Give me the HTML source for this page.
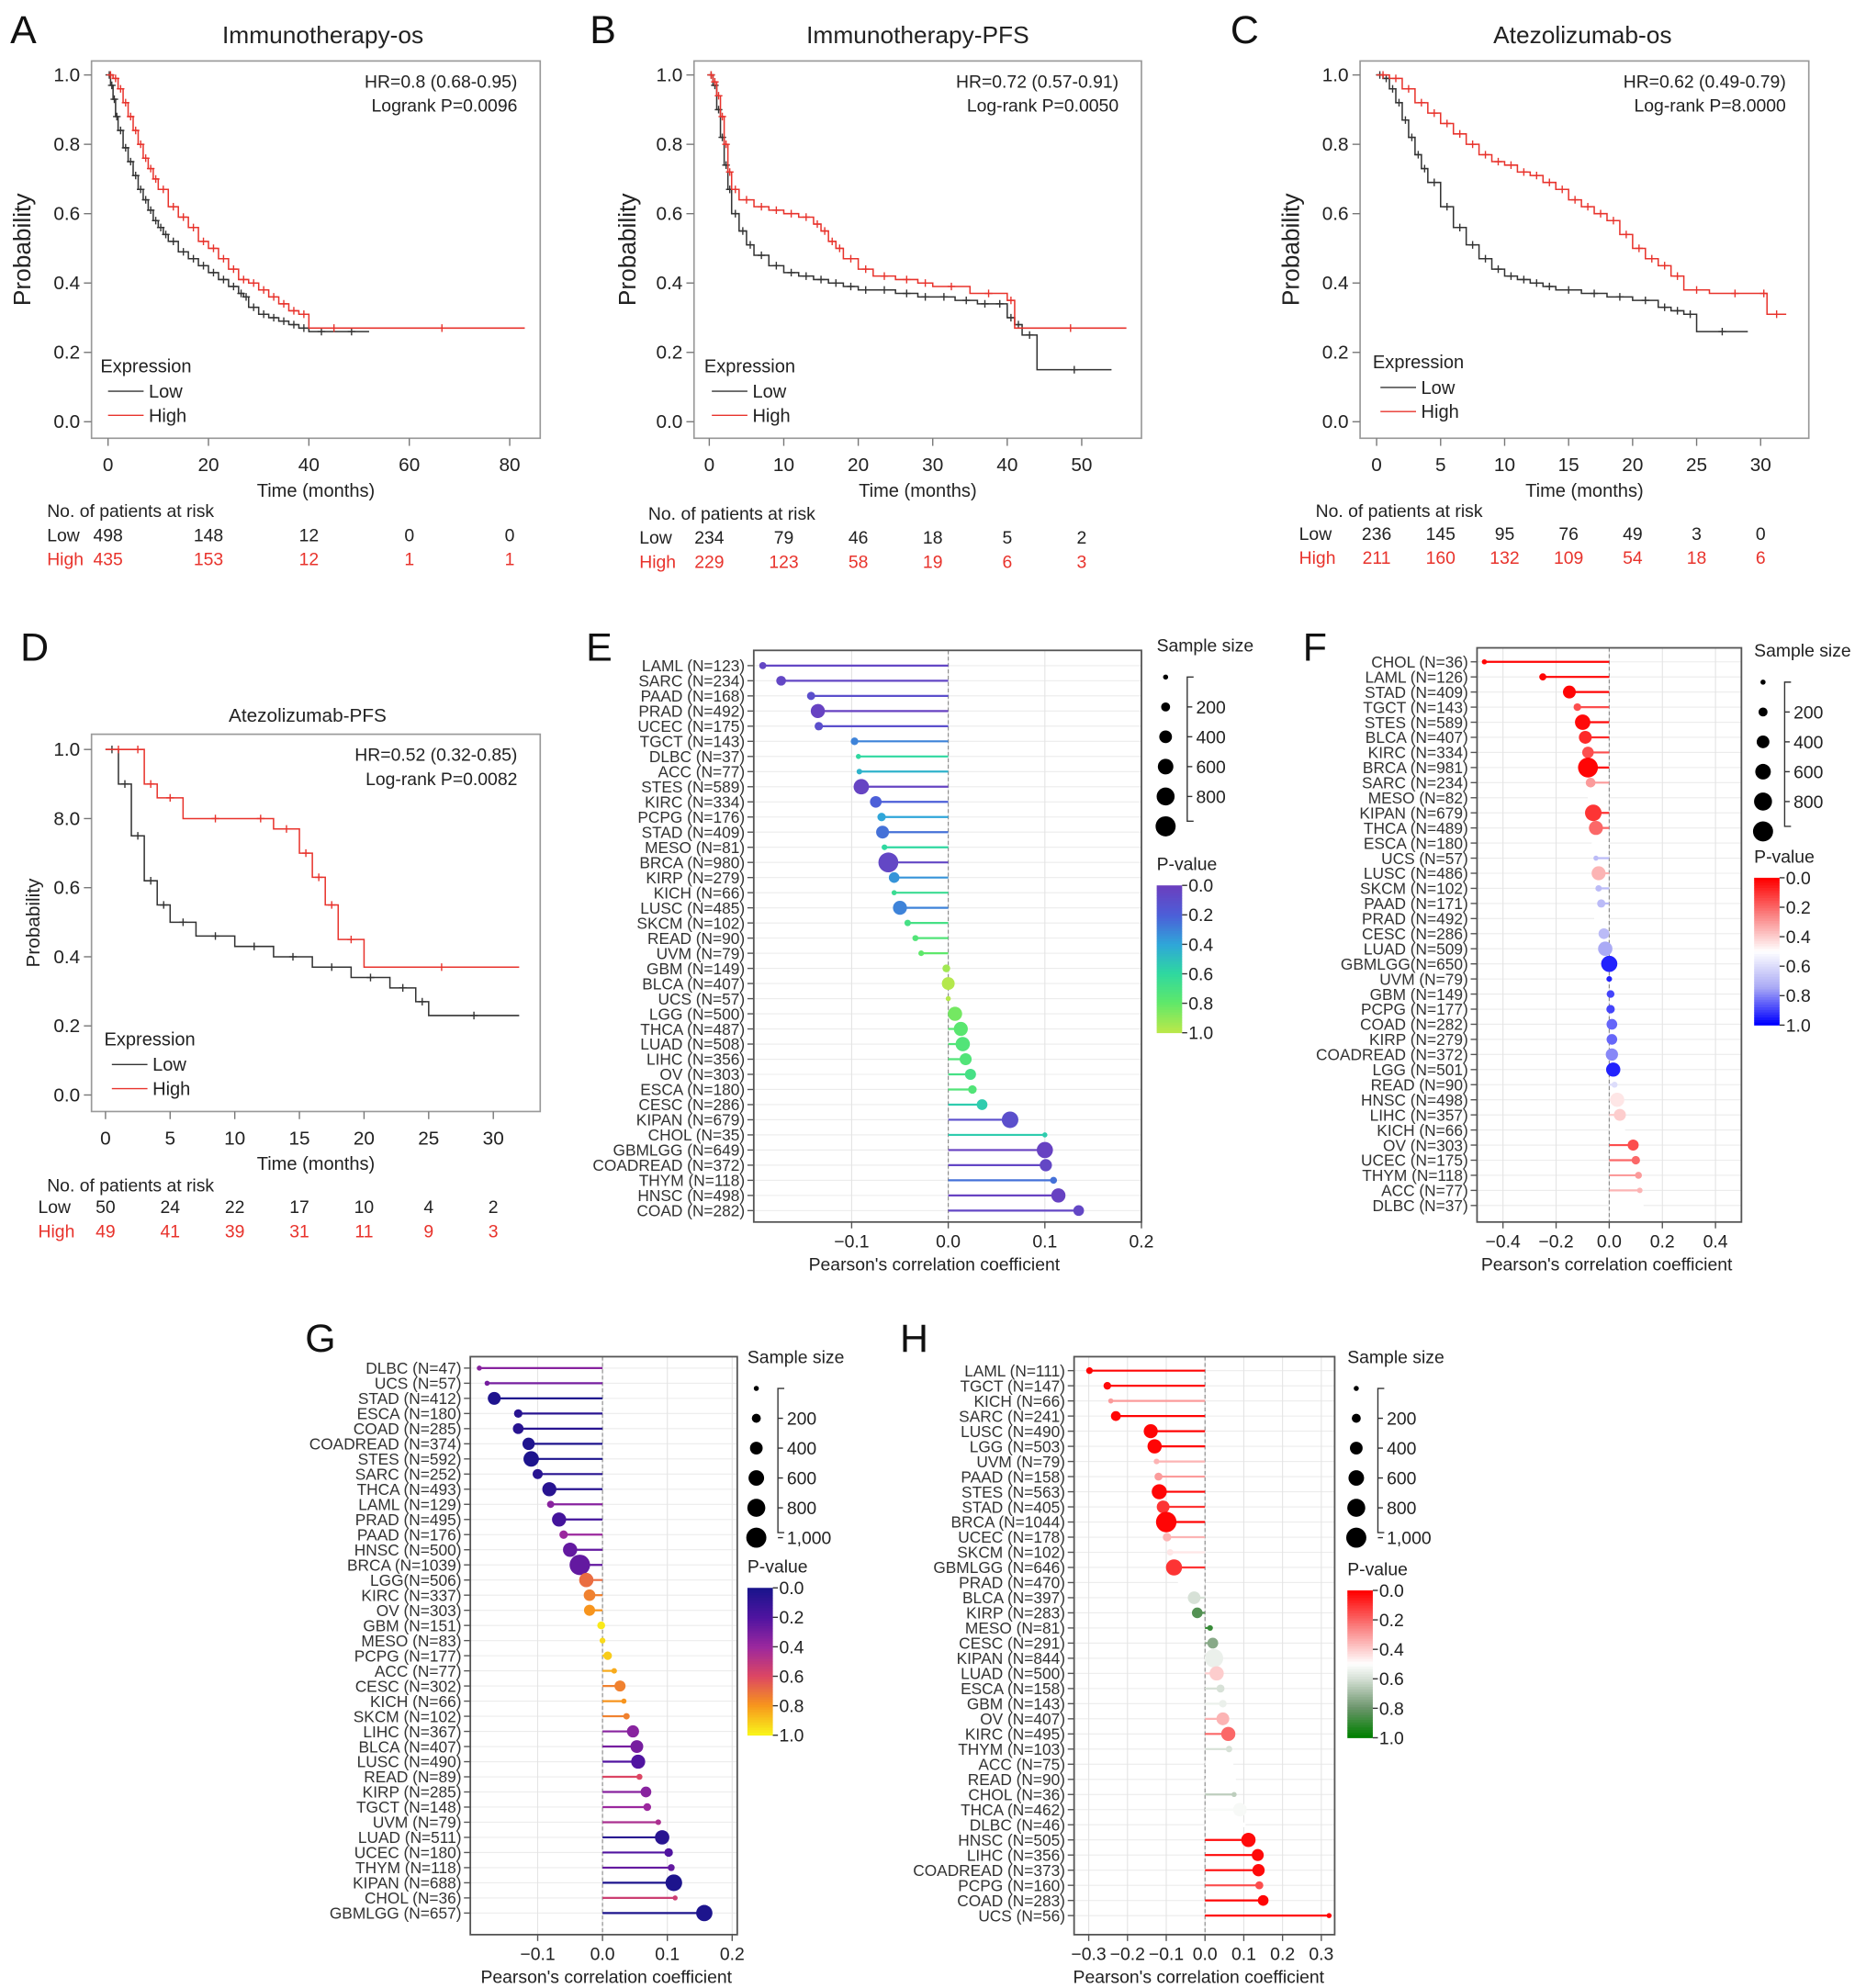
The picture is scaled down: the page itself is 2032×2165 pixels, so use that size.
<!DOCTYPE html>
<html><head><meta charset="utf-8">
<style>
html,body{margin:0;padding:0;background:#fff;}
svg{display:block;font-family:"Liberation Sans",Arial,sans-serif;}
</style></head>
<body>
<svg id="fig" width="2032" height="2165" viewBox="0 0 1468 1565" preserveAspectRatio="none" xmlns="http://www.w3.org/2000/svg"></svg>
<script>
// ===== KM data =====
const aLowT=[0,0.5,1,1.5,2,3,4,5,6,7,8,9,10,11,12,14,16,18,20,22,24,26,27,28,30,32,34,36,38,40,45,52];
const aLowP=[1,0.97,0.93,0.88,0.84,0.79,0.75,0.71,0.67,0.64,0.61,0.58,0.56,0.54,0.52,0.49,0.47,0.45,0.43,0.41,0.39,0.37,0.36,0.33,0.31,0.30,0.29,0.28,0.27,0.26,0.26,0.26];
const aHighT=[0,1,2,3,4,5,6,7,8,9,10,12,14,16,18,20,22,24,26,28,30,32,34,36,38,40,50,83];
const aHighP=[1,0.99,0.96,0.92,0.88,0.84,0.8,0.76,0.73,0.7,0.67,0.62,0.59,0.56,0.52,0.5,0.47,0.44,0.41,0.4,0.38,0.36,0.34,0.32,0.31,0.27,0.27,0.27];
const bLowT=[0,0.5,1,1.5,2,2.5,3,4,5,6,8,10,12,14,16,18,20,22,25,28,30,33,36,38,40,41,42,44,54];
const bLowP=[1,0.97,0.9,0.82,0.74,0.67,0.6,0.55,0.51,0.48,0.45,0.43,0.42,0.41,0.4,0.39,0.38,0.38,0.37,0.36,0.36,0.35,0.34,0.34,0.3,0.28,0.25,0.15,0.15];
const bHighT=[0,0.5,1,1.5,2,2.5,3,4,6,8,10,12,14,15,16,17,18,20,22,25,28,30,35,40,41,56];
const bHighP=[1,0.98,0.94,0.88,0.8,0.72,0.67,0.64,0.62,0.61,0.6,0.59,0.57,0.55,0.52,0.5,0.47,0.44,0.42,0.41,0.4,0.39,0.37,0.35,0.27,0.27];
const cLowT=[0,0.5,1,1.5,2,2.5,3,3.5,4,5,6,7,8,9,10,11,12,13,14,16,18,20,22,23,24,25,29];
const cLowP=[1,0.99,0.96,0.92,0.87,0.82,0.77,0.73,0.69,0.62,0.56,0.51,0.47,0.44,0.42,0.41,0.4,0.39,0.38,0.37,0.36,0.35,0.33,0.32,0.31,0.26,0.26];
const cHighT=[0,1,2,3,4,5,6,7,8,9,10,11,12,13,14,15,16,17,18,19,20,21,22,23,24,26,30,30.5,32];
const cHighP=[1,0.99,0.96,0.92,0.89,0.86,0.83,0.8,0.77,0.75,0.74,0.72,0.71,0.69,0.67,0.64,0.62,0.6,0.58,0.54,0.5,0.47,0.45,0.42,0.38,0.37,0.37,0.31,0.31];
const dLowT=[0,1,2,3,4,5,7,10,13,16,19,22,24,25,32];
const dLowP=[1,0.9,0.75,0.62,0.55,0.5,0.46,0.43,0.4,0.37,0.34,0.31,0.27,0.23,0.23];
const dHighT=[0,2,3,4,6,11,13,15,16,17,18,20,32];
const dHighP=[1,1,0.9,0.86,0.8,0.8,0.77,0.7,0.63,0.55,0.45,0.37,0.37];
const aRiskLow=["498","148","12","0","0"], aRiskHigh=["435","153","12","1","1"];
const bRiskLow=["234","79","46","18","5","2"], bRiskHigh=["229","123","58","19","6","3"];
const cRiskLow=["236","145","95","76","49","3","0"], cRiskHigh=["211","160","132","109","54","18","6"];
const dRiskLow=["50","24","22","17","10","4","2"], dRiskHigh=["49","41","39","31","11","9","3"];
const aXTicks=[0,20,40,60,80], bXTicks=[0,10,20,30,40,50], cXTicks=[0,5,10,15,20,25,30], dXTicks=[0,5,10,15,20,25,30];
const yTicks=[0,0.2,0.4,0.6,0.8,1.0];
const yTickLabels=["0.0","0.2","0.4","0.6","0.8","1.0"];
const dYTickLabels=["0.0","0.2","0.4","0.6","8.0","1.0"];

// ===== Lollipop data =====
const eCats=["LAML","SARC","PAAD","PRAD","UCEC","TGCT","DLBC","ACC","STES","KIRC","PCPG","STAD","MESO","BRCA","KIRP","KICH","LUSC","SKCM","READ","UVM","GBM","BLCA","UCS","LGG","THCA","LUAD","LIHC","OV","ESCA","CESC","KIPAN","CHOL","GBMLGG","COADREAD","THYM","HNSC","COAD"];
const eN=[123,234,168,492,175,143,37,77,589,334,176,409,81,980,279,66,485,102,90,79,149,407,57,500,487,508,356,303,180,286,679,35,649,372,118,498,282];
const eR=[-0.192,-0.173,-0.142,-0.135,-0.134,-0.097,-0.093,-0.092,-0.09,-0.075,-0.069,-0.068,-0.066,-0.062,-0.056,-0.056,-0.05,-0.042,-0.034,-0.028,-0.002,0.0,0.0,0.007,0.013,0.015,0.018,0.023,0.025,0.035,0.064,0.1,0.1,0.101,0.109,0.114,0.135];
const eP=[0.05,0.05,0.1,0.02,0.1,0.3,0.6,0.45,0.03,0.2,0.4,0.25,0.6,0.05,0.35,0.65,0.3,0.7,0.75,0.8,0.95,0.99,0.99,0.85,0.78,0.75,0.75,0.7,0.75,0.55,0.1,0.55,0.02,0.05,0.25,0.02,0.05];

const fCats=["CHOL","LAML","STAD","TGCT","STES","BLCA","KIRC","BRCA","SARC","MESO","KIPAN","THCA","ESCA","UCS","LUSC","SKCM","PAAD","PRAD","CESC","LUAD","GBMLGG","UVM","GBM","PCPG","COAD","KIRP","COADREAD","LGG","READ","HNSC","LIHC","KICH","OV","UCEC","THYM","ACC","DLBC"];
const fN=[36,126,409,143,589,407,334,981,234,82,679,489,180,57,486,102,171,492,286,509,650,79,149,177,282,279,372,501,90,498,357,66,303,175,118,77,37];
const fR=[-0.47,-0.25,-0.15,-0.12,-0.1,-0.09,-0.08,-0.08,-0.07,-0.07,-0.06,-0.05,-0.05,-0.05,-0.04,-0.04,-0.03,-0.03,-0.02,-0.015,0.0,0.0,0.005,0.005,0.01,0.01,0.01,0.015,0.02,0.03,0.04,0.05,0.09,0.1,0.11,0.115,0.12];
const fP=[0.01,0.01,0.01,0.15,0.02,0.08,0.15,0.01,0.3,0.5,0.1,0.2,0.5,0.7,0.35,0.7,0.7,0.5,0.7,0.75,0.95,0.95,0.9,0.9,0.85,0.85,0.8,0.95,0.6,0.45,0.4,0.5,0.15,0.2,0.3,0.35,0.5];

const gCats=["DLBC","UCS","STAD","ESCA","COAD","COADREAD","STES","SARC","THCA","LAML","PRAD","PAAD","HNSC","BRCA","LGG","KIRC","OV","GBM","MESO","PCPG","ACC","CESC","KICH","SKCM","LIHC","BLCA","LUSC","READ","KIRP","TGCT","UVM","LUAD","UCEC","THYM","KIPAN","CHOL","GBMLGG"];
const gN=[47,57,412,180,285,374,592,252,493,129,495,176,500,1039,506,337,303,151,83,177,77,302,66,102,367,407,490,89,285,148,79,511,180,118,688,36,657];
const gR=[-0.19,-0.178,-0.167,-0.13,-0.13,-0.114,-0.11,-0.1,-0.082,-0.08,-0.067,-0.06,-0.05,-0.035,-0.025,-0.02,-0.02,-0.002,0.0,0.008,0.018,0.027,0.033,0.037,0.047,0.053,0.055,0.057,0.067,0.069,0.086,0.092,0.102,0.106,0.11,0.112,0.157];
const gP=[0.35,0.3,0.02,0.05,0.05,0.02,0.01,0.05,0.05,0.35,0.15,0.4,0.25,0.25,0.7,0.75,0.8,0.98,0.95,0.92,0.85,0.75,0.8,0.75,0.35,0.3,0.2,0.6,0.35,0.4,0.45,0.05,0.2,0.25,0.01,0.55,0.01];

const hCats=["LAML","TGCT","KICH","SARC","LUSC","LGG","UVM","PAAD","STES","STAD","BRCA","UCEC","SKCM","GBMLGG","PRAD","BLCA","KIRP","MESO","CESC","KIPAN","LUAD","ESCA","GBM","OV","KIRC","THYM","ACC","READ","CHOL","THCA","DLBC","HNSC","LIHC","COADREAD","PCPG","COAD","UCS"];
const hN=[111,147,66,241,490,503,79,158,563,405,1044,178,102,646,470,397,283,81,291,844,500,158,143,407,495,103,75,90,36,462,46,505,356,373,160,283,56];
const hR=[-0.298,-0.252,-0.243,-0.23,-0.14,-0.13,-0.125,-0.12,-0.118,-0.108,-0.1,-0.098,-0.09,-0.08,-0.052,-0.028,-0.02,0.013,0.02,0.023,0.03,0.04,0.046,0.046,0.06,0.062,0.066,0.072,0.075,0.09,0.098,0.112,0.136,0.138,0.14,0.15,0.32];
const hP=[0.01,0.02,0.3,0.01,0.01,0.01,0.35,0.3,0.01,0.1,0.01,0.35,0.45,0.1,0.5,0.6,0.85,0.9,0.75,0.55,0.4,0.6,0.55,0.35,0.2,0.6,0.5,0.5,0.65,0.52,0.5,0.02,0.02,0.02,0.15,0.01,0.01];

// ===== helpers =====
const NS="http://www.w3.org/2000/svg";
const svg=document.getElementById('fig');
function mk(tag,attrs,parent){const e=document.createElementNS(NS,tag);for(const k in attrs)e.setAttribute(k,attrs[k]);(parent||svg).appendChild(e);return e;}
function txt(x,y,s,size,anchor,fill,name,parent,extra){
  const t=mk('text',Object.assign({x:x,y:y,'font-size':size,'text-anchor':anchor||'start',fill:fill||'#222'},extra||{}),parent);
  t.textContent=s;
  
  
  return t;
}
function grp(name){const g=mk('g',{});
  
  
  return g;}
function lerpColor(stops,v){
  v=Math.max(0,Math.min(1,v));
  for(let i=0;i<stops.length-1;i++){
    const [a,ca]=stops[i],[b,cb]=stops[i+1];
    if(v>=a&&v<=b){const t=(v-a)/(b-a||1);
      const c=[0,1,2].map(j=>Math.round(ca[j]+(cb[j]-ca[j])*t));
      return 'rgb('+c.join(',')+')';}
  }
  const c=stops[stops.length-1][1];return 'rgb('+c.join(',')+')';
}
const viridisStops=[[0,[106,63,191]],[0.2,[76,95,216]],[0.4,[47,166,217]],[0.6,[47,216,160]],[0.8,[94,232,106]],[1,[184,232,74]]];
const rbStops=[[0,[255,0,0]],[0.25,[250,130,130]],[0.5,[255,255,255]],[0.75,[170,170,245]],[1,[0,0,255]]];
const plasmaStops=[[0,[26,20,140]],[0.2,[80,20,160]],[0.4,[155,40,158]],[0.6,[220,70,100]],[0.8,[247,148,29]],[1,[249,242,26]]];
const rgStops=[[0,[255,0,0]],[0.25,[250,130,130]],[0.5,[255,255,255]],[0.6,[215,225,215]],[0.8,[110,150,110]],[1,[0,128,0]]];
const rad=n=>Math.max(2,0.25*Math.sqrt(n));

// ===== KM panel =====
function kmPanel(c){
  const g=grp('km-panel-'+c.id);
  const px=t=>c.x0+t*c.kx, py=p=>c.yb-p*(c.yb-c.yt);
  txt(c.letterX,c.letterY,c.letter,31,'start','#111','panel-letter-'+c.id,g);
  txt(c.titleX,c.titleY,c.title,c.titleSize,'middle','#222','chart-title-'+c.id,g);
  const box=mk('rect',{x:c.bx0,y:c.by0,width:c.bx1-c.bx0,height:c.by1-c.by0,fill:'none',stroke:'#999','stroke-width':1.2},g);
  
  
  yTicks.forEach((v,i)=>{
    mk('line',{x1:c.bx0-6,x2:c.bx0,y1:py(v),y2:py(v),stroke:'#777'},g);
    txt(c.bx0-9,py(v)+5,c.yLabels[i],15,'end','#222','y-tick-label',g);
  });
  c.xTicks.forEach((v,i)=>{
    mk('line',{x1:px(v),x2:px(v),y1:c.by1,y2:c.by1+6,stroke:'#777'},g);
    txt(px(v),c.by1+26,String(v),15,'middle','#222','x-tick-label',g);
    txt(px(v),c.riskY1,c.riskLow[i],14,'middle','#222','risk-low-value',g);
    txt(px(v),c.riskY2,c.riskHigh[i],14,'middle','#e8332c','risk-high-value',g);
  });
  txt((c.bx0+c.bx1)/2,c.by1+46,'Time (months)',14.5,'middle','#222','x-axis-title',g);
  const yt=txt(0,0,'Probability',c.ySize,'middle','#222','y-axis-title',g);
  yt.setAttribute('transform','translate('+c.ylx+','+((c.by0+c.by1)/2)+') rotate(-90)');
  txt(c.bx1-18,c.by0+21,c.hr,14,'end','#222','hazard-ratio',g);
  txt(c.bx1-18,c.by0+40,c.lr,14,'end','#222','logrank-p',g);
  txt(c.legX,c.legY,'Expression',14.5,'start','#222','legend-title',g);
  mk('line',{x1:c.legX+6,x2:c.legX+34,y1:c.legY+15,y2:c.legY+15,stroke:'#333'},g);
  txt(c.legX+38,c.legY+20,'Low',14.5,'start','#222','legend-low',g);
  mk('line',{x1:c.legX+6,x2:c.legX+34,y1:c.legY+34,y2:c.legY+34,stroke:'#e8332c'},g);
  txt(c.legX+38,c.legY+39,'High',14.5,'start','#222','legend-high',g);
  txt(c.riskHX,c.riskY0,'No. of patients at risk',14,'start','#222','risk-table-title',g);
  txt(c.riskLX,c.riskY1,'Low',14,'start','#222','risk-low-label',g);
  txt(c.riskLX,c.riskY2,'High',14,'start','#e8332c','risk-high-label',g);
  [[c.lowT,c.lowP,'#333','low'],[c.highT,c.highP,'#e8332c','high']].forEach(([T,P,col,nm])=>{
    let d='M'+px(T[0])+','+py(P[0]);
    for(let i=1;i<T.length;i++){d+=' H'+px(T[i])+' V'+py(P[i]);}
    const path=mk('path',{d:d,fill:'none',stroke:col,'stroke-width':1.1},g);
    
    
    for(let i=1;i<T.length;i++){
      const xm=px((T[i-1]+T[i])/2), ym=py(P[i-1]);
      const cm=mk('path',{d:'M'+(xm-3)+','+ym+' h6 M'+xm+','+(ym-3)+' v6',stroke:col,'stroke-width':1},g);
      
      
    }
  });
}
kmPanel({id:'a',letter:'A',letterX:8,letterY:34,title:'Immunotherapy-os',titleX:254,titleY:34,titleSize:19,
  bx0:72,bx1:425,by0:48,by1:345,x0:85,kx:3.95,yb:332,yt:59,yLabels:yTickLabels,xTicks:aXTicks,ylx:24,ySize:19,
  hr:'HR=0.8 (0.68-0.95)',lr:'Logrank P=0.0096',legX:79,legY:293,riskHX:37,riskLX:37,riskY0:407,riskY1:426,riskY2:445,
  riskLow:aRiskLow,riskHigh:aRiskHigh,lowT:aLowT,lowP:aLowP,highT:aHighT,highP:aHighP});
kmPanel({id:'b',letter:'B',letterX:464,letterY:34,title:'Immunotherapy-PFS',titleX:722,titleY:34,titleSize:19,
  bx0:546,bx1:898,by0:48,by1:345,x0:558,kx:5.86,yb:332,yt:59,yLabels:yTickLabels,xTicks:bXTicks,ylx:500,ySize:19,
  hr:'HR=0.72 (0.57-0.91)',lr:'Log-rank P=0.0050',legX:554,legY:293,riskHX:510,riskLX:503,riskY0:409,riskY1:428,riskY2:447,
  riskLow:bRiskLow,riskHigh:bRiskHigh,lowT:bLowT,lowP:bLowP,highT:bHighT,highP:bHighP});
kmPanel({id:'c',letter:'C',letterX:968,letterY:34,title:'Atezolizumab-os',titleX:1245,titleY:34,titleSize:19,
  bx0:1070,bx1:1423,by0:48,by1:345,x0:1083,kx:10.07,yb:332,yt:59,yLabels:yTickLabels,xTicks:cXTicks,ylx:1022,ySize:19,
  hr:'HR=0.62 (0.49-0.79)',lr:'Log-rank P=8.0000',legX:1080,legY:290,riskHX:1035,riskLX:1022,riskY0:407,riskY1:425,riskY2:444,
  riskLow:cRiskLow,riskHigh:cRiskHigh,lowT:cLowT,lowP:cLowP,highT:cHighT,highP:cHighP});
kmPanel({id:'d',letter:'D',letterX:16,letterY:520,title:'Atezolizumab-PFS',titleX:242,titleY:568,titleSize:15,
  bx0:72,bx1:425,by0:578,by1:875,x0:83,kx:10.17,yb:862,yt:590,yLabels:dYTickLabels,xTicks:dXTicks,ylx:31,ySize:15,
  hr:'HR=0.52 (0.32-0.85)',lr:'Log-rank P=0.0082',legX:82,legY:823,riskHX:37,riskLX:30,riskY0:938,riskY1:955,riskY2:974,
  riskLow:dRiskLow,riskHigh:dRiskHigh,lowT:dLowT,lowP:dLowP,highT:dHighT,highP:dHighP});

// ===== Lollipop panel =====
function lolli(c){
  const g=grp('lollipop-panel-'+c.id);
  const px=v=>c.zero+v*c.k;
  const n=c.cats.length, step=(c.rowLast-c.rowFirst)/(n-1);
  const ry=i=>c.rowFirst+i*step;
  txt(c.letterX,c.letterY,c.letter,31,'start','#111','panel-letter-'+c.id,g);
  for(let i=0;i<n;i++) mk('line',{x1:c.bx0,x2:c.bx1,y1:ry(i),y2:ry(i),stroke:'#ececec','stroke-width':0.8},g);
  c.ticks.forEach(t=>mk('line',{x1:px(t),x2:px(t),y1:c.by0,y2:c.by1,stroke:'#e4e4e4','stroke-width':0.8},g));
  mk('line',{x1:px(0),x2:px(0),y1:c.by0,y2:c.by1,stroke:'#888','stroke-dasharray':'3,2','stroke-width':0.8},g);
  const fr=mk('rect',{x:c.bx0,y:c.by0,width:c.bx1-c.bx0,height:c.by1-c.by0,fill:'none',stroke:'#555','stroke-width':1.3},g);
  
  
  c.ticks.forEach((t,i)=>{
    mk('line',{x1:px(t),x2:px(t),y1:c.by1,y2:c.by1+5,stroke:'#555'},g);
    txt(px(t),c.by1+20,c.tickLabels[i],14,'middle','#222','x-tick-label',g);
  });
  txt(c.axTitleX,c.by1+38,"Pearson's correlation coefficient",14,'middle','#222','x-axis-title',g);
  for(let i=0;i<n;i++){
    const col=lerpColor(c.stops,c.p[i]);
    mk('line',{x1:c.bx0-5,x2:c.bx0,y1:ry(i),y2:ry(i),stroke:'#555'},g);
    const lab=c.cats[i]+(c.cats[i]==='GBMLGG'&&c.id==='f'||c.cats[i]==='LGG'&&c.id==='g'?'':' ')+'(N='+c.N[i]+')';
    txt(c.bx0-7,ry(i)+4.5,lab,12.5,'end','#333','row-label',g);
    const ln=mk('line',{x1:px(0),x2:px(c.r[i]),y1:ry(i),y2:ry(i),stroke:col,'stroke-width':1.6},g);
    
    
    const dot=mk('circle',{cx:px(c.r[i]),cy:ry(i),r:rad(c.N[i]),fill:col},g);
    
    
  }
  txt(c.lx,c.ly,'Sample size',14,'start','#222','size-legend-title',g);
  const sizes=c.sizeVals;
  sizes.forEach((s,i)=>{
    const yy=c.ly+20+i*23.5;
    mk('circle',{cx:c.lx+7,cy:yy,r:rad(s),fill:'#000'},g);
  });
  const bx=c.lx+24, yb0=c.ly+20, yb1=c.ly+20+(sizes.length-1)*23.5-4;
  mk('path',{d:'M'+(bx+5)+','+yb0+' H'+bx+' V'+yb1+' H'+(bx+5),fill:'none',stroke:'#333'},g);
  c.sizeLabels.forEach((s,i)=>{
    const yy=c.ly+20+(i+1)*23.5;
    mk('line',{x1:bx,x2:bx+4,y1:yy,y2:yy,stroke:'#333'},g);
    txt(bx+7,yy+5,s,14,'start','#222','size-legend-label',g);
  });
  const cy0=c.cby, cy1=c.cby+116;
  txt(c.lx,cy0-12,'P-value',14,'start','#222','pvalue-legend-title',g);
  for(let k=0;k<58;k++){
    mk('rect',{x:c.lx,y:cy0+k*2,width:20,height:2.3,fill:lerpColor(c.stops,k/57)},g);
  }
  ['0.0','0.2','0.4','0.6','0.8','1.0'].forEach((s,i)=>{
    const yy=cy0+i*(cy1-cy0)/5;
    mk('line',{x1:c.lx+20,x2:c.lx+24,y1:yy,y2:yy,stroke:'#333'},g);
    txt(c.lx+25,yy+5,s,14,'start','#222','pvalue-legend-label',g);
  });
}
lolli({id:'e',letter:'E',letterX:461,letterY:520,cats:eCats,N:eN,r:eR,p:eP,stops:viridisStops,
  bx0:593,bx1:898,by0:512,by1:962,zero:746,k:760,ticks:[-0.1,0,0.1,0.2],tickLabels:['\u22120.1','0.0','0.1','0.2'],
  rowFirst:524,rowLast:953,axTitleX:735,lx:910,ly:513,cby:697,sizeVals:[30,200,400,600,800,1000],sizeLabels:['200','400','600','800']});
lolli({id:'f',letter:'F',letterX:1025,letterY:520,cats:fCats,N:fN,r:fR,p:fP,stops:rbStops,
  bx0:1162,bx1:1370,by0:510,by1:962,zero:1266,k:209,ticks:[-0.4,-0.2,0,0.2,0.4],tickLabels:['\u22120.4','\u22120.2','0.0','0.2','0.4'],
  rowFirst:521,rowLast:949,axTitleX:1264,lx:1380,ly:517,cby:691,sizeVals:[30,200,400,600,800,1000],sizeLabels:['200','400','600','800']});
lolli({id:'g',letter:'G',letterX:240,letterY:1064,cats:gCats,N:gN,r:gR,p:gP,stops:plasmaStops,
  bx0:370,bx1:580,by0:1068,by1:1523,zero:474,k:510,ticks:[-0.1,0,0.1,0.2],tickLabels:['\u22120.1','0.0','0.1','0.2'],
  rowFirst:1077,rowLast:1506,axTitleX:477,lx:588,ly:1073,cby:1250,sizeVals:[30,200,400,600,800,1000],sizeLabels:['200','400','600','800','1,000']});
lolli({id:'h',letter:'H',letterX:708,letterY:1064,cats:hCats,N:hN,r:hR,p:hP,stops:rgStops,
  bx0:845,bx1:1050,by0:1068,by1:1523,zero:948,k:305,ticks:[-0.3,-0.2,-0.1,0,0.1,0.2,0.3],tickLabels:['\u22120.3','\u22120.2','\u22120.1','0.0','0.1','0.2','0.3'],
  rowFirst:1079,rowLast:1508,axTitleX:943,lx:1060,ly:1073,cby:1252,sizeVals:[30,200,400,600,800,1000],sizeLabels:['200','400','600','800','1,000']});
</script>
</body></html>
